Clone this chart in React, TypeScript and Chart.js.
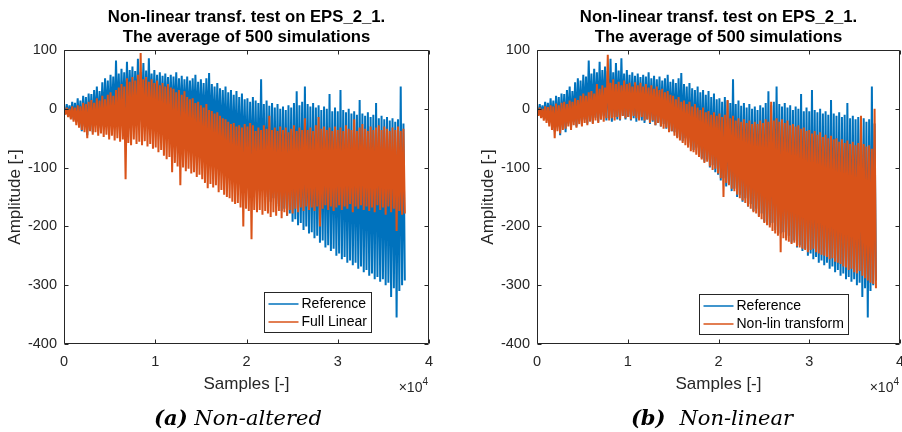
import React, { useEffect, useRef } from "react";
import { Chart, registerables } from "chart.js";

Chart.register(...registerables);

// ---------- data (one value every 150 samples) ----------
const SAMPLE_STEP = 150;

const reference: number[] = [
  2, -8, 8, -12, 6, -15, 12, -18, 10, -22, 18, -25, 14, -38, 22, -30, 20, -45, 26, -28,
  25, -40, 32, -25, 38, -32, 30, -22, 45, -30, 52, -20, 48, -28, 58, -18, 55, -25, 82, -20,
  60, -24, 68, -15, 62, -22, 80, -18, 66, -12, 72, -20, 64, -16, 85, -22, 62, -14, 78, -18,
  65, -20, 86, -12, 60, -18, 66, -14, 58, -20, 62, -16, 56, -22, 60, -15, 54, -20, 58, -24,
  55, -18, 62, -26, 52, -22, 56, -28, 50, -24, 55, -30, 48, -26, 52, -34, 58, -30, 46, -38,
  50, -40, 44, -48, 52, -42, 61, -55, 42, -50, 38, -62, 44, -58, 35, -70, 32, -66, 38, -78,
  28, -84, 32, -90, 24, -86, 30, -100, 20, -96, 26, -108, 16, -112, 18, -122, 12, -118, 20, -132,
  14, -128, 10, -140, 50, -136, 8, -150, 14, -146, 5, -158, 10, -152, 2, -166, 8, -162, 0, -174,
  4, -170, -2, -182, 6, -178, 2, -192, 10, -188, 30, -198, 6, -194, 12, -206, 38, -200, 8, -212,
  4, -210, 10, -220, 2, -216, 6, -228, -2, -224, 4, -236, 0, -232, 25, -242, -4, -238, 2, -250,
  -4, -246, 32, -256, -2, -252, -6, -262, 0, -258, -8, -266, -4, -262, -10, -272, 15, -268, -8, -278,
  -12, -274, -6, -284, -14, -280, -10, -290, 10, -286, -16, -294, -12, -290, -18, -300, -14, -296, -20, -320,
  -16, -305, -22, -355, -18, -310, 38, -300, -25, -292,
];

const fullLinear: number[] = [
  -2, -10, 2, -14, 0, -18, 4, -22, 2, -28, 6, -32, 4, -36, 10, -40, 8, -50, 12, -38,
  15, -44, 10, -40, 18, -46, 14, -42, 22, -48, 16, -44, 24, -52, 28, -46, 22, -54, 32, -50,
  36, -56, 42, -52, 38, -120, 52, -58, 46, -62, 54, -52, 48, -60, 58, -56, 95, -62, 50, -55,
  54, -64, 46, -60, 50, -68, 44, -66, 48, -74, 40, -70, 44, -80, 38, -86, 42, -82, 36, -108,
  34, -92, 28, -98, 32, -130, 24, -100, 30, -106, 20, -102, 16, -110, 18, -108, 10, -116, 12, -112,
  6, -120, 2, -126, 8, -135, -2, -128, -4, -134, -8, -130, -6, -142, -12, -138, -16, -146, -18, -150,
  -22, -152, -26, -158, -24, -162, -30, -160, -28, -168, -32, -200, -26, -170, -30, -174, -24, -222, -28, -172,
  -38, -176, -32, -172, -36, -180, -28, -174, -34, -178, -12, -184, -36, -176, -32, -182, -38, -174, -30, -186,
  -36, -176, -32, -182, -40, -172, -34, -178, -28, -170, -38, -176, -32, -168, -36, -174, -16, -166, -36, -172,
  -32, -168, -38, -174, -28, -166, -14, -200, -34, -170, -30, -164, -36, -172, -32, -166, -38, -174, -30, -168,
  -36, -164, -32, -172, -38, -166, -28, -170, -34, -162, -36, -176, -18, -166, -38, -170, -32, -164, -26, -172,
  -34, -166, -38, -174, -30, -168, -36, -176, -32, -164, -28, -172, -36, -168, -30, -180, -34, -166, -38, -176,
  -32, -170, -36, -208, -30, -174, -38, -180, -34, -178,
];

const nonLinTransform: number[] = [
  -2, -12, 2, -16, 0, -20, 4, -24, 3, -30, 6, -36, 4, -50, 9, -38, 6, -42, 10, -36,
  12, -34, 8, -30, 14, -36, 12, -28, 18, -32, 15, -26, 22, -30, 26, -24, 22, -28, 28, -22,
  30, -26, 26, -20, 42, -24, 34, -18, 40, -22, 36, -16, 92, -20, 44, -16, 50, -20, 42, -14,
  46, -18, 40, -12, 48, -16, 42, -14, 44, -18, 38, -12, 45, -16, 40, -20, 44, -14, 38, -20,
  42, -18, 36, -24, 40, -20, 34, -28, 38, -24, 32, -30, 34, -34, 28, -32, 30, -40, 24, -38,
  22, -46, 16, -50, 20, -54, 12, -58, 14, -62, 8, -66, 12, -72, 4, -74, 8, -78, 2, -82,
  -2, -86, 2, -92, -6, -90, -4, -98, -10, -104, -6, -102, -12, -110, -8, -118, -14, -150, -10, -126,
  15, -130, -16, -136, -12, -140, -20, -146, -16, -152, -22, -156, -18, -160, -24, -166, -20, -170, -26, -176,
  -22, -178, -26, -184, -20, -188, -24, -194, -18, -198, -22, -202, 12, -208, -20, -212, -16, -216, -22, -244,
  -18, -220, -24, -224, -20, -226, -28, -230, -26, -228, -30, -234, -28, -236, -34, -238, -32, -240, -38, -244,
  -36, -240, -42, -238, -38, -244, -44, -246, -40, -248, -48, -250, -44, -252, -50, -256, -46, -254, -52, -260,
  -50, -262, -56, -264, -52, -268, -58, -270, -54, -274, -60, -272, -56, -278, -62, -280, -58, -276, -12, -284,
  -60, -288, -64, -292, -62, -296, -68, -298, 0, -305,
];

const X_MIN = 0;
const X_MAX = 40000;
const X_STEP = 10000;
const X_EXPONENT = "4";
const Y_MIN = -400;
const Y_MAX = 100;
const Y_STEP = 100;
const TITLE_LINES = ["Non-linear transf. test on EPS_2_1.", "The average of 500 simulations"];
const X_LABEL = "Samples [-]";
const Y_LABEL = "Amplitude [-]";
const REF_LABEL = "Reference";

// ---------- styles ----------
const BLUE = "#0072BD";
const ORANGE = "#D95319";
const AXIS = "#262626";
const SANS = "'Liberation Sans', Arial, Helvetica, sans-serif";
const SERIF = "'DejaVu Serif', serif";
const LINE_WIDTH = 2;

type PanelCfg = {
  second: number[];
  secondLabel: string;
  padLeft: number;
  padRight: number;
  legendRight: number;
  legendBottom: number;
};

function toPoints(values: number[]) {
  return values.map((v, i) => ({ x: i * SAMPLE_STEP, y: v }));
}

function makeAxesPlugin(p: PanelCfg) {
  return {
    id: "matlabAxes",
    afterDraw(chart: any) {
      const { ctx, chartArea: a, scales } = chart;
      const xs = scales.x;
      const ys = scales.y;
      ctx.save();
      ctx.strokeStyle = AXIS;
      ctx.lineWidth = 1;
      const L = Math.round(a.left) + 0.5;
      const R = Math.round(a.right) - 0.5;
      const T = Math.round(a.top) + 0.5;
      const B = Math.round(a.bottom) - 0.5;
      const tl = 4;
      ctx.beginPath();
      ctx.rect(L, T, R - L, B - T);
      xs.ticks.forEach((t: any) => {
        const px = Math.round(xs.getPixelForValue(t.value)) + 0.5;
        ctx.moveTo(px, B);
        ctx.lineTo(px, B - tl);
        ctx.moveTo(px, T);
        ctx.lineTo(px, T + tl);
      });
      ys.ticks.forEach((t: any) => {
        const py = Math.round(ys.getPixelForValue(t.value)) + 0.5;
        ctx.moveTo(L, py);
        ctx.lineTo(L + tl, py);
        ctx.moveTo(R, py);
        ctx.lineTo(R - tl, py);
      });
      ctx.stroke();

      // x10^4 exponent
      ctx.fillStyle = AXIS;
      ctx.textAlign = "left";
      ctx.textBaseline = "alphabetic";
      ctx.font = `10px ${SANS}`;
      const ew = ctx.measureText(X_EXPONENT).width;
      ctx.font = `14px ${SANS}`;
      const bw = ctx.measureText("\u00d710").width;
      const right = a.right - 1;
      const base = a.bottom + 48;
      ctx.fillText("\u00d710", right - ew - bw, base);
      ctx.font = `10px ${SANS}`;
      ctx.fillText(X_EXPONENT, right - ew, base - 7);

      // legend
      const items = [
        { text: REF_LABEL, color: BLUE },
        { text: p.secondLabel, color: ORANGE },
      ];
      ctx.font = `14px ${SANS}`;
      const tw = Math.max(...items.map((it) => ctx.measureText(it.text).width));
      const w = Math.round(37 + tw + 5);
      const h = 40;
      const bx = Math.round(a.right - p.legendRight - w) + 0.5;
      const by = Math.round(a.bottom - p.legendBottom - h) + 0.5;
      ctx.fillStyle = "#ffffff";
      ctx.fillRect(bx, by, w, h);
      ctx.strokeStyle = AXIS;
      ctx.lineWidth = 1;
      ctx.strokeRect(bx, by, w, h);
      items.forEach((it, i) => {
        const cy = by + 11.5 + i * 18;
        ctx.strokeStyle = it.color;
        ctx.lineWidth = 1.5;
        ctx.beginPath();
        ctx.moveTo(bx + 4, cy);
        ctx.lineTo(bx + 34, cy);
        ctx.stroke();
        ctx.fillStyle = "#000000";
        ctx.textBaseline = "middle";
        ctx.textAlign = "left";
        ctx.fillText(it.text, bx + 37, cy);
      });
      ctx.restore();
    },
  };
}

function Panel({ cfg, left }: { cfg: PanelCfg; left: number }) {
  const ref = useRef<HTMLCanvasElement>(null);
  useEffect(() => {
    const canvas = ref.current;
    if (!canvas) return;
    const chart = new Chart(canvas, {
      type: "line",
      data: {
        datasets: [
          {
            label: REF_LABEL,
            data: toPoints(reference),
            borderColor: BLUE,
            backgroundColor: BLUE,
            borderWidth: LINE_WIDTH,
            borderJoinStyle: "bevel",
            pointRadius: 0,
            fill: false,
            tension: 0,
            order: 1,
          },
          {
            label: cfg.secondLabel,
            data: toPoints(cfg.second),
            borderColor: ORANGE,
            backgroundColor: ORANGE,
            borderWidth: LINE_WIDTH,
            borderJoinStyle: "bevel",
            pointRadius: 0,
            fill: false,
            tension: 0,
            order: 0,
          },
        ],
      },
      options: {
        responsive: false,
        animation: false,
        devicePixelRatio: 1,
        events: [],
        layout: { padding: { left: cfg.padLeft, right: cfg.padRight, top: 0, bottom: 0 } },
        plugins: {
          legend: { display: false },
          tooltip: { enabled: false },
          title: {
            display: true,
            text: TITLE_LINES,
            fullSize: false,
            color: "#000000",
            font: { family: SANS, size: 16.7, weight: "bold", lineHeight: 1.2 },
            padding: { top: 7, bottom: 2.9 },
          },
        },
        scales: {
          x: {
            type: "linear",
            min: X_MIN,
            max: X_MAX,
            afterFit: (s: any) => {
              s.height = 88;
              s.paddingLeft = 0;
              s.paddingRight = 0;
            },
            ticks: {
              stepSize: X_STEP,
              callback: (v: any) => String(Number(v) / X_STEP),
              color: AXIS,
              font: { family: SANS, size: 14.5 },
              padding: 9,
              maxRotation: 0,
              autoSkip: false,
            },
            grid: { display: false, drawTicks: false },
            border: { display: false },
            title: {
              display: true,
              text: X_LABEL,
              color: AXIS,
              font: { family: SANS, size: 17 },
              padding: { top: 0, bottom: 37.8 },
            },
          },
          y: {
            type: "linear",
            min: Y_MIN,
            max: Y_MAX,
            afterFit: (s: any) => {
              s.width = 64;
              s.paddingTop = 0;
              s.paddingBottom = 0;
            },
            ticks: {
              stepSize: Y_STEP,
              color: AXIS,
              font: { family: SANS, size: 14.5 },
              padding: 7,
            },
            grid: { display: false, drawTicks: false },
            border: { display: false },
            title: {
              display: true,
              text: Y_LABEL,
              color: AXIS,
              font: { family: SANS, size: 17 },
              padding: { top: 5, bottom: 0 },
            },
          },
        },
      } as any,
      plugins: [makeAxesPlugin(cfg)],
    });
    return () => chart.destroy();
  }, []);
  return (
    <canvas
      ref={ref}
      width={451}
      height={432}
      style={{ position: "absolute", left, top: 0, width: 451, height: 432 }}
    />
  );
}

const leftPanel: PanelCfg = {
  second: fullLinear,
  secondLabel: "Full Linear",
  padLeft: 0,
  padRight: 22,
  legendRight: 58,
  legendBottom: 12,
};

const rightPanel: PanelCfg = {
  second: nonLinTransform,
  secondLabel: "Non-lin transform",
  padLeft: 22,
  padRight: 2,
  legendRight: 52,
  legendBottom: 10,
};

const captionStyle: React.CSSProperties = {
  position: "absolute",
  top: 405,
  width: 300,
  textAlign: "center",
  fontFamily: SERIF,
  fontStyle: "italic",
  fontSize: 21,
  lineHeight: "26px",
  color: "#000",
  whiteSpace: "nowrap",
};

export default function App() {
  useEffect(() => {
    document.body.style.margin = "0";
  }, []);
  return (
    <div
      style={{
        position: "fixed",
        left: 0,
        top: 0,
        width: 902,
        height: 432,
        background: "#ffffff",
        overflow: "hidden",
      }}
    >
      <Panel cfg={leftPanel} left={0} />
      <Panel cfg={rightPanel} left={451} />
      <div style={{ ...captionStyle, left: 88 }}>
        <b>(a)</b> Non-altered
      </div>
      <div style={{ ...captionStyle, left: 562 }}>
        <b>(b)</b>
        <span style={{ marginLeft: 14 }}>Non-linear</span>
      </div>
    </div>
  );
}
